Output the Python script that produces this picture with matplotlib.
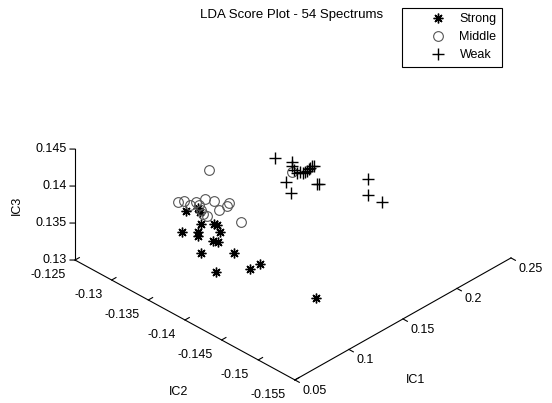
import matplotlib
matplotlib.use("Agg")
import matplotlib.pyplot as plt
from matplotlib.transforms import offset_copy

plt.rcParams['font.family'] = ['Liberation Sans', 'DejaVu Sans']

# LDA scores (IC1, IC2, IC3)
strong_ic1 = [0.07, 0.08, 0.09, 0.07, 0.10, 0.08, 0.09, 0.08, 0.10,
              0.07, 0.09, 0.08, 0.09, 0.07, 0.08, 0.10, 0.09, 0.12]
strong_ic2 = [-0.1372, -0.1374, -0.1362, -0.1392, -0.1366, -0.1399, -0.1389, -0.1352, -0.1344,
              -0.1388, -0.1379, -0.1401, -0.1363, -0.1437, -0.1398, -0.1415, -0.1443, -0.1476]
strong_ic3 = [0.14162, 0.14128, 0.13927, 0.14096, 0.13705, 0.14038, 0.13803, 0.13688, 0.13480,
              0.13899, 0.13630, 0.13815, 0.13380, 0.13946, 0.13396, 0.13361, 0.13664, 0.13128]

middle_ic1 = [0.12, 0.11, 0.12, 0.13, 0.11, 0.12, 0.11, 0.13,
              0.12, 0.11, 0.13, 0.12, 0.11, 0.16, 0.13, 0.11]
middle_ic2 = [-0.1330, -0.1302, -0.1296, -0.1297, -0.1331, -0.1319, -0.1336, -0.1312,
              -0.1336, -0.1358, -0.1339, -0.1357, -0.1388, -0.1384, -0.1289, -0.1339]
middle_ic3 = [0.14074, 0.13577, 0.13472, 0.13385, 0.13691, 0.13474, 0.13597, 0.13264,
              0.13692, 0.13769, 0.13558, 0.13774, 0.13768, 0.14007, 0.13301, 0.13815]

weak_ic1 = [0.17, 0.18, 0.17, 0.19, 0.18, 0.20, 0.19, 0.17, 0.18, 0.17,
            0.18, 0.19, 0.18, 0.20, 0.19, 0.20, 0.17, 0.18, 0.20, 0.19]
weak_ic2 = [-0.1346, -0.1354, -0.1369, -0.1347, -0.1369, -0.1345, -0.1364, -0.1396, -0.1384, -0.1361,
            -0.1353, -0.1374, -0.1391, -0.1429, -0.1443, -0.1448, -0.1387, -0.1378, -0.1336, -0.1342]
weak_ic3 = [0.13910, 0.13818, 0.13926, 0.13543, 0.13749, 0.13481, 0.13705, 0.14072, 0.13924, 0.13665,
            0.13391, 0.13541, 0.13718, 0.13819, 0.13765, 0.13624, 0.13939, 0.13847, 0.13416, 0.13562]

ic1_ticks = [0.05, 0.1, 0.15, 0.2, 0.25]
ic1_labels = ['0.05', '0.1', '0.15', '0.2', '0.25']
ic2_ticks = [-0.125, -0.13, -0.135, -0.14, -0.145, -0.15, -0.155]
ic2_labels = ['-0.125', '-0.13', '-0.135', '-0.14', '-0.145', '-0.15', '-0.155']
ic3_ticks = [0.13, 0.135, 0.14, 0.145]
ic3_labels = ['0.13', '0.135', '0.14', '0.145']

W, H = 552, 403
fig = plt.figure(figsize=(W / 100, H / 100), dpi=100)
side = 491.8
ax = fig.add_axes([40.45 / W, -53.05 / H, side / W, side / H], projection='3d')
ax.set_proj_type('ortho')
ax.view_init(elev=33.7, azim=-135.5)
ax.set_box_aspect((1, 1, 0.4326), zoom=0.9)
x0, x1 = 0.05, 0.25
y0, y1 = -0.155, -0.125
z0, z1 = 0.13, 0.145
ax.set_xlim(x0, x1)
ax.set_ylim(y0, y1)
ax.set_zlim(z0, z1)
ax.set_axis_off()

k = dict(color='black', lw=0.8, clip_on=False)
ax.plot([x0, x0], [y1, y0], [z0, z0], **k)
ax.plot([x0, x1], [y0, y0], [z0, z0], **k)
ax.plot([x0, x0], [y1, y1], [z0, z1], **k)

fs = 9
for t, s in zip(ic2_ticks, ic2_labels):
    ax.plot([x0, x0 + 0.004], [t, t], [z0, z0], **k)
    ax.text(x0, t, z0, s, fontsize=fs, ha='right', va='center',
            transform=offset_copy(ax.transData, fig=fig, x=-9, y=-15, units='dots'))
for t, s in zip(ic1_ticks, ic1_labels):
    ax.plot([t, t], [y0, y0 - 0.0006], [z0, z0], **k)
    ax.text(t, y0, z0, s, fontsize=fs, ha='left', va='center',
            transform=offset_copy(ax.transData, fig=fig, x=8, y=-11, units='dots'))
for t, s in zip(ic3_ticks, ic3_labels):
    ax.plot([x0, x0 - 0.00226], [y1, y1 + 0.00035], [t, t], **k)
    ax.text(x0, y1, t, s, fontsize=fs, ha='right', va='center',
            transform=offset_copy(ax.transData, fig=fig, x=-8, y=0, units='dots'))

h1, = ax.plot(strong_ic1, strong_ic2, strong_ic3, ls='none', marker=(8, 2, 0), ms=7,
              mec='black', mew=1.0, label='Strong')
h2, = ax.plot(middle_ic1, middle_ic2, middle_ic3, ls='none', marker='o', ms=7,
              mfc='none', mec='#555555', mew=0.8, label='Middle')
h3, = ax.plot(weak_ic1, weak_ic2, weak_ic3, ls='none', marker='+', ms=9,
              mec='black', mew=1.0, label='Weak')

fig.text(416 / W, 1 - 380 / H, 'IC1', fontsize=fs, ha='center', va='center')
fig.text(179 / W, 1 - 392 / H, 'IC2', fontsize=fs, ha='center', va='center')
fig.text(17 / W, 1 - 205 / H, 'IC3', fontsize=fs, ha='center', va='center', rotation=90)
fig.text(383 / W, 1 - 15 / H, 'LDA Score Plot - 54 Spectrums', fontsize=9.5,
         ha='right', va='center')

leg = fig.legend(handles=[h1, h2, h3], loc='upper left', bbox_to_anchor=(402 / W, 1 - 8 / H),
                 fontsize=fs, frameon=True, fancybox=False, edgecolor='black', framealpha=1,
                 borderpad=0.4, labelspacing=0.5, handlelength=5.0, handletextpad=-0.8,
                 numpoints=1, borderaxespad=0)
leg.get_frame().set_linewidth(0.8)

fig.savefig('out.png', dpi=100)
